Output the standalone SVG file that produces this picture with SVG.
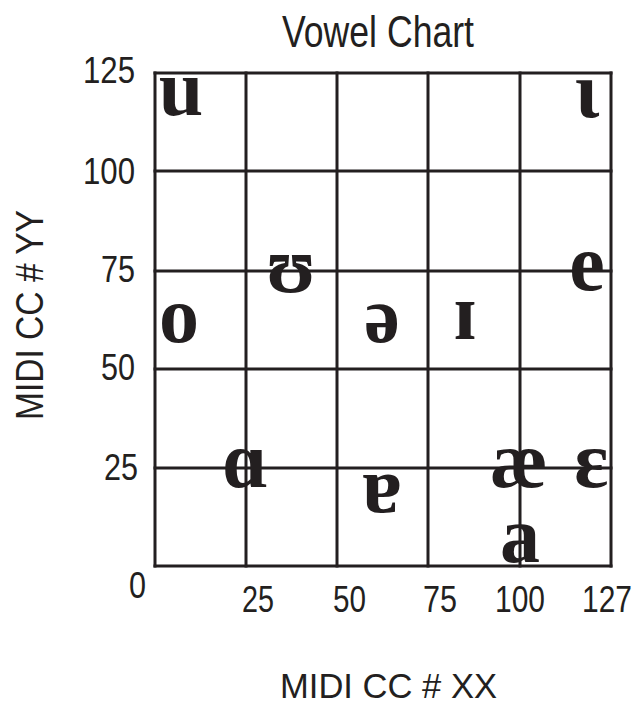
<svg xmlns="http://www.w3.org/2000/svg" width="639" height="704" viewBox="0 0 639 704">
  <style>
    .grid line { stroke: #231f20; stroke-width: 3; stroke-linecap: square; }
    .lbl { font-family: "Liberation Sans", Arial, sans-serif; fill: #231f20; }
    .tick { font-size: 37px; }
    .v { font-family: "Liberation Serif", "DejaVu Serif", serif; font-weight: bold; font-size: 80px; fill: #231f20; text-anchor: middle; }
  </style>
  <rect width="639" height="704" fill="#ffffff"/>

  <g id="title">
    <text class="lbl" x="282" y="47" font-size="45" textLength="192" lengthAdjust="spacingAndGlyphs">Vowel Chart</text>
  </g>

  <g id="grid" class="grid">
    <line x1="155" y1="73" x2="155" y2="566"/>
    <line x1="246" y1="73" x2="246" y2="566"/>
    <line x1="337" y1="73" x2="337" y2="566"/>
    <line x1="428" y1="73" x2="428" y2="566"/>
    <line x1="520" y1="73" x2="520" y2="566"/>
    <line x1="611" y1="73" x2="611" y2="566"/>
    <line x1="155" y1="73" x2="611" y2="73"/>
    <line x1="155" y1="171" x2="611" y2="171"/>
    <line x1="155" y1="271" x2="611" y2="271"/>
    <line x1="155" y1="369" x2="611" y2="369"/>
    <line x1="155" y1="468" x2="611" y2="468"/>
    <line x1="155" y1="566" x2="611" y2="566"/>
  </g>

  <g id="y-axis">
    <text class="lbl tick" x="135" y="83" text-anchor="end" textLength="52" lengthAdjust="spacingAndGlyphs">125</text>
    <text class="lbl tick" x="135" y="184" text-anchor="end" textLength="52" lengthAdjust="spacingAndGlyphs">100</text>
    <text class="lbl tick" x="135" y="282" text-anchor="end" textLength="34" lengthAdjust="spacingAndGlyphs">75</text>
    <text class="lbl tick" x="135" y="380" text-anchor="end" textLength="34" lengthAdjust="spacingAndGlyphs">50</text>
    <text class="lbl tick" x="138" y="480" text-anchor="end" textLength="34" lengthAdjust="spacingAndGlyphs">25</text>
    <text class="lbl tick" x="146" y="598" text-anchor="end" textLength="17" lengthAdjust="spacingAndGlyphs">0</text>
    <text class="lbl" transform="translate(43,420) rotate(-90)" font-size="38" textLength="210" lengthAdjust="spacingAndGlyphs">MIDI CC # YY</text>
  </g>

  <g id="x-axis">
    <text class="lbl tick" x="242" y="612" textLength="32" lengthAdjust="spacingAndGlyphs">25</text>
    <text class="lbl tick" x="333" y="612" textLength="33" lengthAdjust="spacingAndGlyphs">50</text>
    <text class="lbl tick" x="423" y="612" textLength="34" lengthAdjust="spacingAndGlyphs">75</text>
    <text class="lbl tick" x="495" y="612" textLength="50" lengthAdjust="spacingAndGlyphs">100</text>
    <text class="lbl tick" transform="translate(582,612) scale(0.81,1)">127</text>
    <text class="lbl" x="280" y="698" font-size="35" textLength="217" lengthAdjust="spacingAndGlyphs">MIDI CC # XX</text>
  </g>

  <g id="vowel-u"><text class="v" x="181" y="115">u</text></g>
  <g id="vowel-iota"><text class="v" x="587" y="117">ɩ</text></g>
  <g id="vowel-upsilon"><text class="v" x="291" y="292">ʊ</text></g>
  <g id="vowel-e"><text class="v" x="587" y="290">e</text></g>
  <g id="vowel-o"><text class="v" x="179" y="342">o</text></g>
  <g id="vowel-schwa"><text class="v" x="382" y="342">ə</text></g>
  <g id="vowel-small-cap-i"><text class="v" x="465" y="339">ɪ</text></g>
  <g id="vowel-script-a"><text class="v" x="245" y="487">ɑ</text></g>
  <g id="vowel-turned-a"><text class="v" x="382" y="512">ɐ</text></g>
  <g id="vowel-ae"><text class="v" x="519" y="487">æ</text></g>
  <g id="vowel-epsilon"><text class="v" x="591" y="487">ɛ</text></g>
  <g id="vowel-a"><text class="v" x="520" y="562">a</text></g>
</svg>
